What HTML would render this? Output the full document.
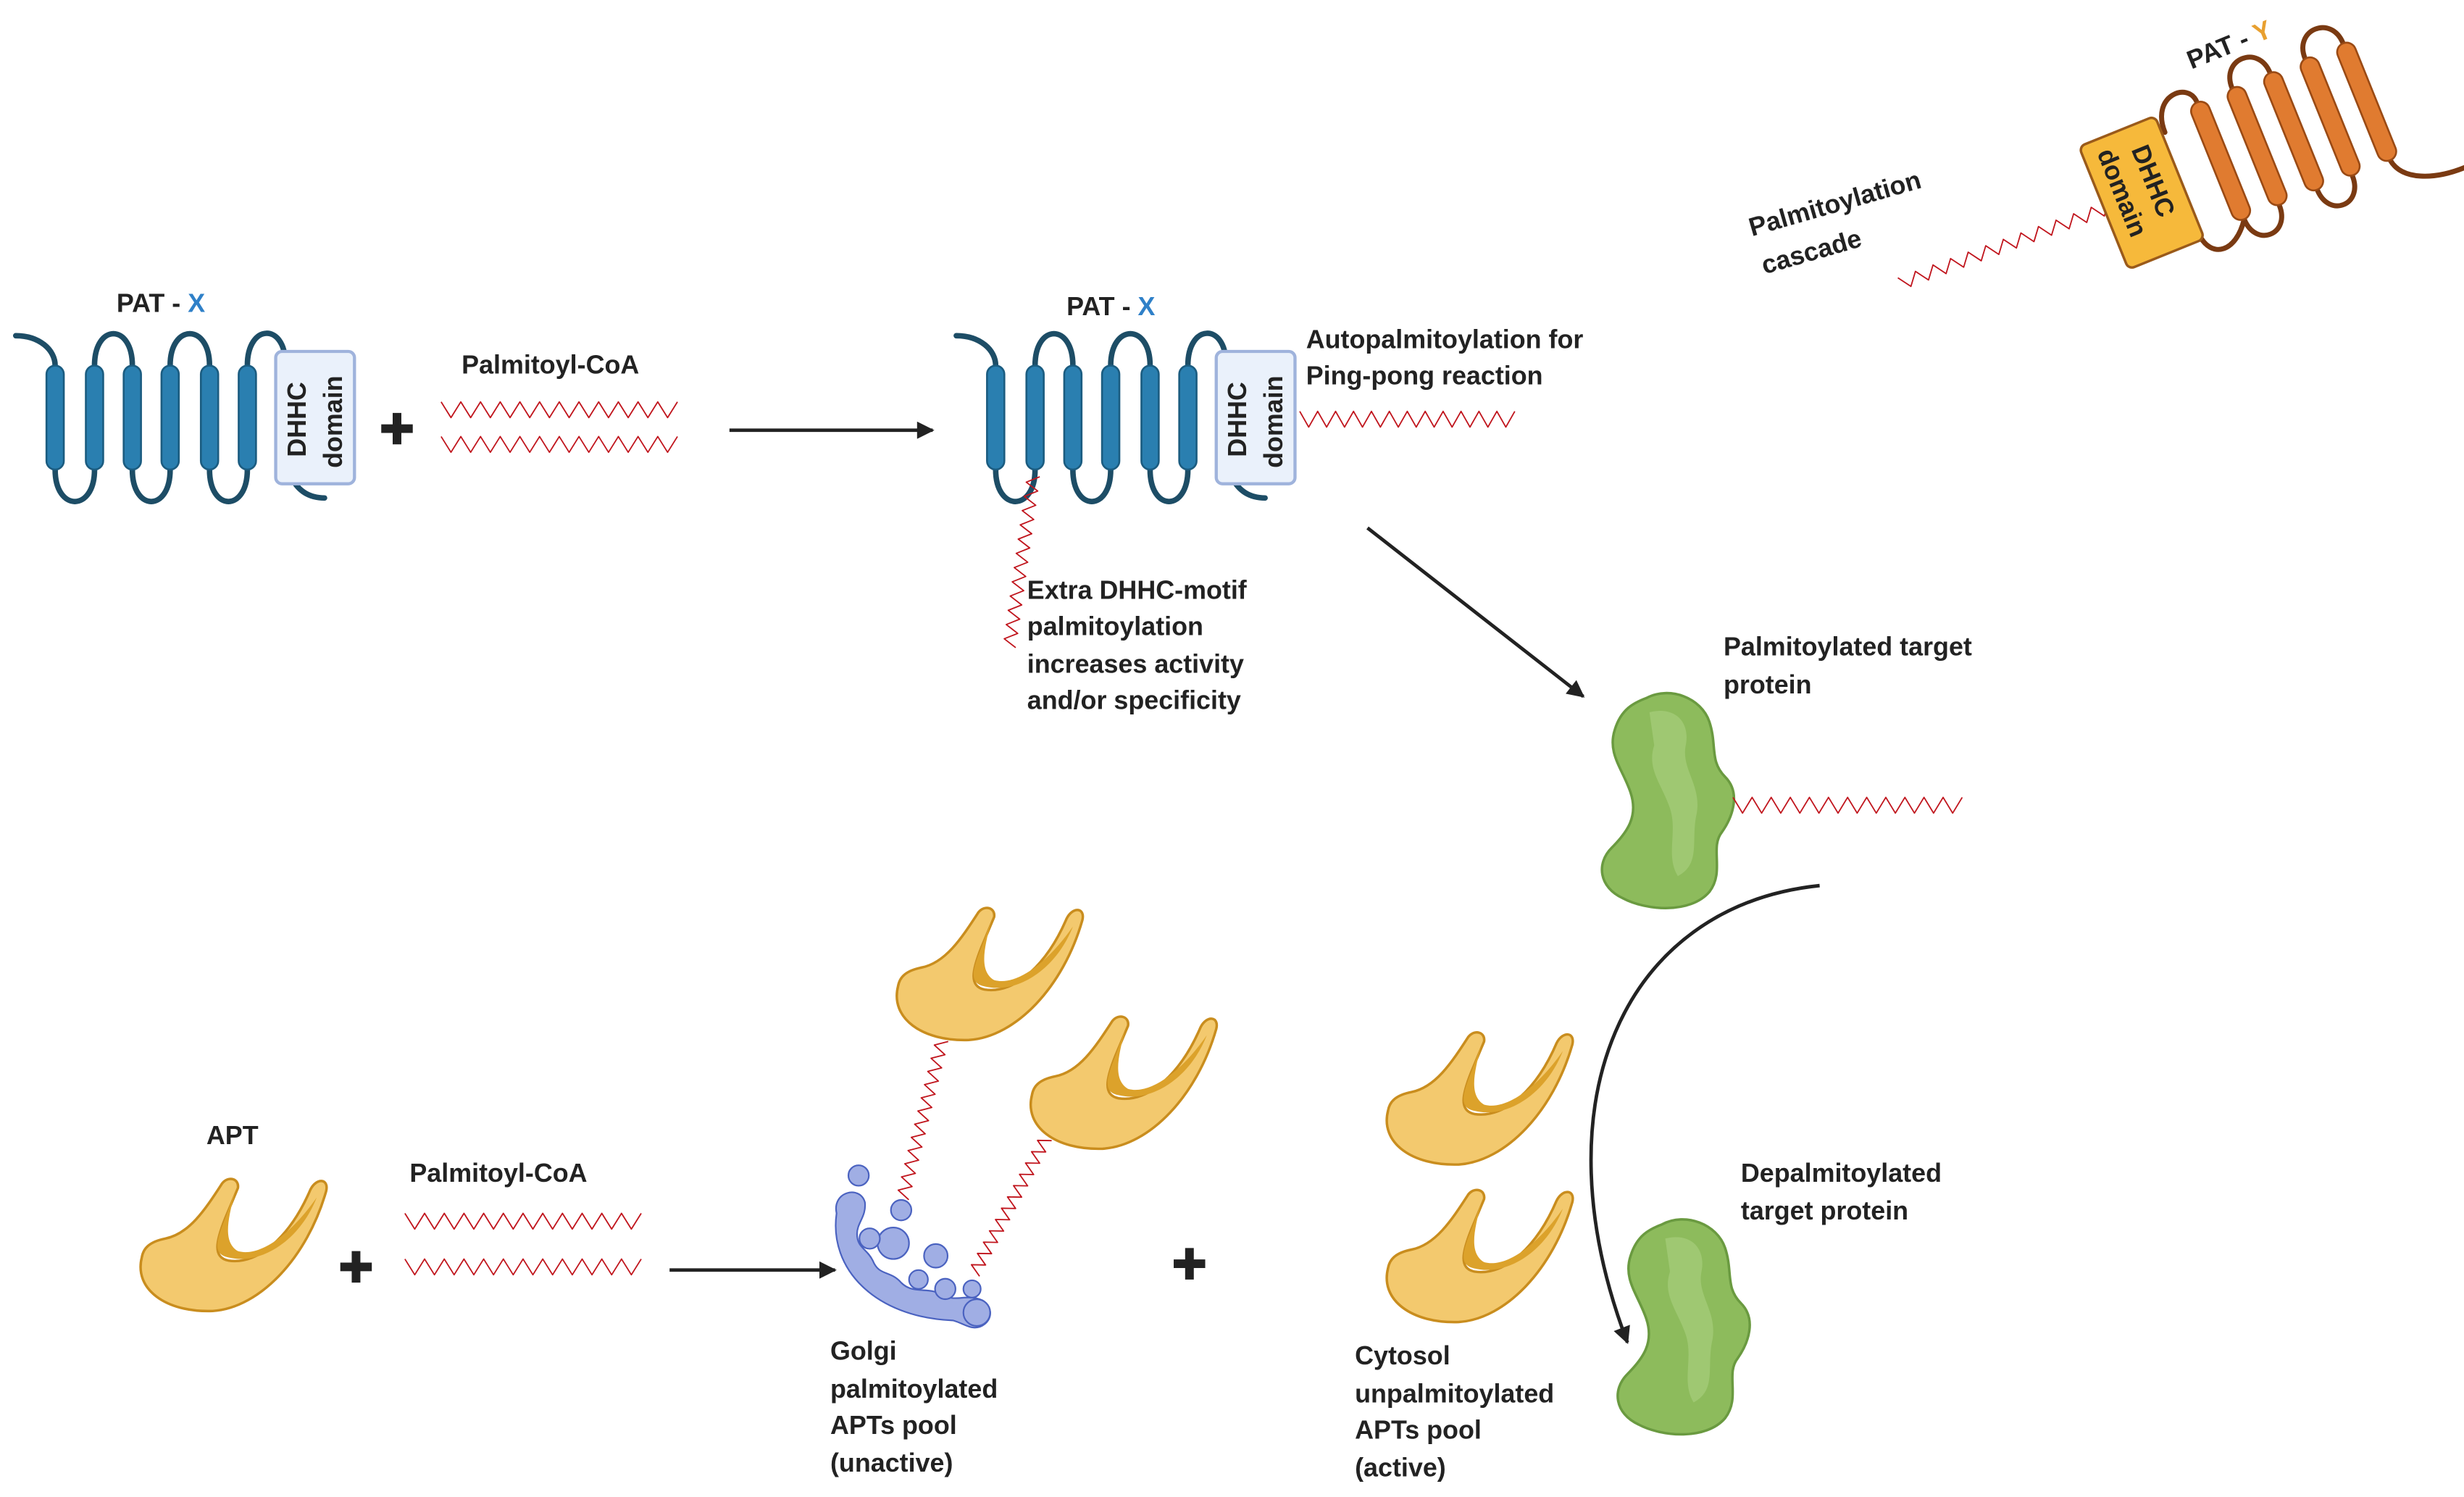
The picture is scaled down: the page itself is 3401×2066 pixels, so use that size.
<!DOCTYPE html>
<html><head><meta charset="utf-8"><style>
html,body{margin:0;padding:0;background:#fff;}
svg{display:block;}
text{font-family:"Liberation Sans",sans-serif;font-weight:bold;font-size:16.5px;fill:#222;}
</style></head><body>
<svg width="3401" height="2066" viewBox="0 0 1564 950" xmlns="http://www.w3.org/2000/svg">
<defs>
<path id="z" d="M0 -5 l6.25 10 l6.25 -10 l6.25 10 l6.25 -10 l6.25 10 l6.25 -10 l6.25 10 l6.25 -10 l6.25 10 l6.25 -10 l6.25 10 l6.25 -10 l6.25 10 l6.25 -10 l6.25 10 l6.25 -10 l6.25 10 l6.25 -10 l6.25 10 l6.25 -10 l6.25 10 l6.25 -10 l6.25 10 l6.25 -10" fill="none" stroke="#c0141c" stroke-width="1.8" stroke-linejoin="round" vector-effect="non-scaling-stroke"/>
<g id="pat">
 <g fill="none" stroke="#1d4d66" stroke-width="3.5" stroke-linecap="round">
  <path d="M10 213 C25 213 35 222 35 232"/>
  <path d="M60 232 C60 205 84 205 84 232"/>
  <path d="M108 232 C108 205 133 205 133 232"/>
  <path d="M157 232 C157 205 181 205 181 230"/>
  <path d="M35 298 C35 325 60 325 60 298"/>
  <path d="M84 298 C84 325 108 325 108 298"/>
  <path d="M133 298 C133 325 157 325 157 298"/>
  <path d="M185 303 C190 313 198 316 206 316"/>
 </g>
 <g fill="#2a7fb0" stroke="#1b5c80" stroke-width="1.2">
  <rect x="29.5" y="232" width="11" height="66" rx="5.5"/>
  <rect x="54.5" y="232" width="11" height="66" rx="5.5"/>
  <rect x="78.5" y="232" width="11" height="66" rx="5.5"/>
  <rect x="102.5" y="232" width="11" height="66" rx="5.5"/>
  <rect x="127.5" y="232" width="11" height="66" rx="5.5"/>
  <rect x="151.5" y="232" width="11" height="66" rx="5.5"/>
 </g>
 <rect x="175" y="223" width="50" height="84" rx="4" fill="#eaf1fb" stroke="#9fb3dc" stroke-width="2"/>
 <text transform="translate(194,290) rotate(-90)">DHHC</text>
 <text transform="translate(217,297) rotate(-90)">domain</text>
</g>
<g id="apt">
 <path d="M5 50 C0 70 20 85 50 84 C80 82 110 50 122 8 C124 0 116 -1 112 7 C100 35 80 55 60 52 C50 50 52 40 58 25 L66 6 C67 0 60 -2 56 3 C45 20 35 35 20 38 C10 40 6 44 5 50 Z" fill="#f3c96e" stroke="#c98d1e" stroke-width="1.6"/>
 <path d="M60 50 C50 48 52 40 58 25 L64 9 C60 25 56 40 66 46 C80 50 100 35 116 12 C105 40 80 55 60 50 Z" fill="#dca22b"/>
</g>
<g id="prot">
 <path d="M30 5 C45 -3 65 5 70 20 C75 35 70 45 80 55 C90 65 85 80 78 90 C70 100 80 115 70 128 C58 142 30 140 15 132 C0 125 -2 110 8 100 C18 90 25 80 20 65 C15 50 5 40 10 25 C14 12 22 8 30 5 Z" fill="#8dbb5c" stroke="#6a9a40" stroke-width="1.6"/>
 <path d="M32 14 C48 10 58 20 55 35 C52 50 65 60 62 78 C58 95 65 110 50 118 C42 105 50 90 45 75 C40 60 30 50 35 35 Z" fill="#a4cc78" opacity="0.8"/>
</g>
<marker id="ah" viewBox="0 0 10 10" refX="9" refY="5" markerWidth="13" markerHeight="11" orient="auto" markerUnits="userSpaceOnUse"><path d="M0 0 L10 5 L0 10 Z" fill="#222"/></marker>
</defs>

<!-- PAT X left -->
<text x="74" y="198">PAT - <tspan fill="#2f80c8">X</tspan></text>
<use href="#pat"/>
<path d="M242 272 h20 M252 262 v20" stroke="#222" stroke-width="5.5"/>
<text x="293" y="237">Palmitoyl-CoA</text>
<use href="#z" transform="translate(280,260)"/>
<use href="#z" transform="translate(280,282)"/>
<line x1="463" y1="273" x2="592" y2="273" stroke="#222" stroke-width="2.2" marker-end="url(#ah)"/>

<!-- PAT X middle -->
<text x="677" y="200">PAT - <tspan fill="#2f80c8">X</tspan></text>
<use href="#pat" transform="translate(597,0)"/>
<use href="#z" transform="translate(825,266) scale(0.91,1)"/>
<text x="829" y="221">Autopalmitoylation for</text>
<text x="829" y="244">Ping-pong reaction</text>
<use href="#z" transform="translate(656,302) rotate(98) scale(0.73,0.8)"/>
<text x="652" y="380">Extra DHHC-motif</text>
<text x="652" y="403">palmitoylation</text>
<text x="652" y="427">increases activity</text>
<text x="652" y="450">and/or specificity</text>
<line x1="868" y1="335" x2="1005" y2="442" stroke="#222" stroke-width="2.2" marker-end="url(#ah)"/>

<!-- Palmitoylated target -->
<text x="1094" y="416">Palmitoylated target</text>
<text x="1094" y="440">protein</text>
<use href="#prot" transform="translate(1015,438)"/>
<use href="#z" transform="translate(1100,511) scale(0.97,1)"/>
<path d="M1155 562 C1030 575 975 700 1033 852" fill="none" stroke="#222" stroke-width="2.2" marker-end="url(#ah)"/>
<text x="1105" y="750">Depalmitoylated</text>
<text x="1105" y="774">target protein</text>
<use href="#prot" transform="translate(1025,772)"/>

<!-- PAT Y -->
<text transform="translate(1391,44) rotate(-22)">PAT - <tspan fill="#e8a030">Y</tspan></text>
<use href="#z" transform="translate(1206,180) rotate(-20) scale(0.95,0.8)"/>
<g transform="translate(1365,120) rotate(-22)">
 <g fill="none" stroke="#7a3a12" stroke-width="3.2" stroke-linecap="round">
  <path d="M22 -30 C22 -55 48 -55 48 -40"/>
  <path d="M72 -40 C72 -60 98 -60 98 -40"/>
  <path d="M122 -40 C122 -60 148 -60 148 -40"/>
  <path d="M48 40 C48 60 72 60 72 40"/>
  <path d="M98 40 C98 60 122 60 122 40"/>
  <path d="M148 40 C150 55 170 62 190 62"/>
  <path d="M18 40 C20 55 35 58 48 40"/>
 </g>
 <g fill="#e07b30" stroke="#9a4a14" stroke-width="1.2">
  <rect x="42" y="-40" width="12" height="80" rx="6"/>
  <rect x="67" y="-40" width="12" height="80" rx="6"/>
  <rect x="92" y="-40" width="12" height="80" rx="6"/>
  <rect x="117" y="-40" width="12" height="80" rx="6"/>
  <rect x="142" y="-40" width="12" height="80" rx="6"/>
 </g>
 <rect x="-32" y="-42" width="52" height="84" rx="4" fill="#f6b93b" stroke="#9a5a1a" stroke-width="1.6"/>
 <text transform="translate(-2,-28) rotate(90)">DHHC</text>
 <text transform="translate(-23,-34) rotate(90)">domain</text>
</g>
<text transform="translate(1112,150) rotate(-16)">Palmitoylation</text>
<text transform="translate(1120,174) rotate(-16)">cascade</text>

<!-- bottom left -->
<text x="131" y="726">APT</text>
<use href="#apt" transform="translate(85,748)"/>
<path d="M216 804 h20 M226 794 v20" stroke="#222" stroke-width="5.5"/>
<text x="260" y="750">Palmitoyl-CoA</text>
<use href="#z" transform="translate(257,775)"/>
<use href="#z" transform="translate(257,804)"/>
<line x1="425" y1="806" x2="530" y2="806" stroke="#222" stroke-width="2.2" marker-end="url(#ah)"/>

<!-- Golgi -->
<use href="#z" transform="translate(598,660) rotate(104) scale(0.69,0.8)"/>
<use href="#z" transform="translate(664,722) rotate(118) scale(0.65,0.8)"/>
<g fill="#a0aee4" stroke="#4a62c0" stroke-width="1">
 <path d="M531 770 C526 805 555 836 605 838 C612 840 616 844 622 842 C632 838 630 826 620 824 C612 822 606 826 598 822 C590 816 580 822 572 814 C565 806 558 810 554 800 C550 792 544 792 544 783 C544 776 550 772 549 763 C546 752 528 756 531 770 Z"/>
 <circle cx="545" cy="746" r="6.5"/><circle cx="572" cy="768" r="6.5"/>
 <circle cx="567" cy="789" r="10"/><circle cx="552" cy="786" r="6.5"/>
 <circle cx="594" cy="797" r="7.5"/><circle cx="583" cy="812" r="6"/>
 <circle cx="600" cy="818" r="6.5"/><circle cx="617" cy="818" r="5.5"/>
 <circle cx="620" cy="833" r="8.5"/>
</g>
<use href="#apt" transform="translate(565,576)"/>
<use href="#apt" transform="translate(650,645)"/>
<text x="527" y="863">Golgi</text>
<text x="527" y="887">palmitoylated</text>
<text x="527" y="910">APTs pool</text>
<text x="527" y="934">(unactive)</text>
<path d="M745 802 h20 M755 792 v20" stroke="#222" stroke-width="5.5"/>

<!-- Cytosol -->
<use href="#apt" transform="translate(876,655)"/>
<use href="#apt" transform="translate(876,755)"/>
<text x="860" y="866">Cytosol</text>
<text x="860" y="890">unpalmitoylated</text>
<text x="860" y="913">APTs pool</text>
<text x="860" y="937">(active)</text>
</svg>
</body></html>
